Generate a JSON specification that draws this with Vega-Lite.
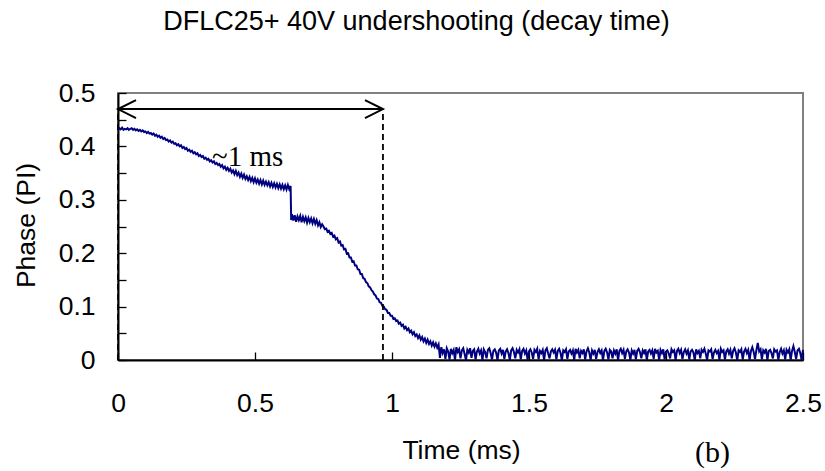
{
  "$schema": "https://vega.github.io/schema/vega-lite/v6.json",
  "width": 685,
  "height": 267,
  "autosize": {"type": "none"},
  "padding": {"left": 118, "top": 93, "right": 22, "bottom": 111},
  "background": "white",
  "config": {"view": {"stroke": "#808080", "strokeWidth": 2}, "font": "Liberation Sans"},
  "title": {"text": "DFLC25+ 40V undershooting (decay time)", "font": "Liberation Sans", "fontSize": 27, "fontWeight": "normal", "color": "black", "anchor": "middle", "dx": -44, "offset": 44},
  "datasets": {
    "trace": [
      {"t":0.000,"p":0.431},{"t":0.005,"p":0.434},{"t":0.010,"p":0.432},{"t":0.015,"p":0.435},{"t":0.020,"p":0.431},{"t":0.025,"p":0.433},{"t":0.030,"p":0.432},{"t":0.035,"p":0.434},{"t":0.040,"p":0.431},{"t":0.045,"p":0.433},
      {"t":0.050,"p":0.434},{"t":0.055,"p":0.431},{"t":0.060,"p":0.433},{"t":0.065,"p":0.430},{"t":0.070,"p":0.432},{"t":0.075,"p":0.429},{"t":0.080,"p":0.431},{"t":0.085,"p":0.428},{"t":0.090,"p":0.430},{"t":0.095,"p":0.427},
      {"t":0.100,"p":0.428},{"t":0.105,"p":0.425},{"t":0.110,"p":0.427},{"t":0.115,"p":0.424},{"t":0.120,"p":0.425},{"t":0.125,"p":0.422},{"t":0.130,"p":0.424},{"t":0.135,"p":0.420},{"t":0.140,"p":0.422},{"t":0.145,"p":0.418},
      {"t":0.150,"p":0.420},{"t":0.155,"p":0.416},{"t":0.160,"p":0.418},{"t":0.165,"p":0.414},{"t":0.170,"p":0.416},{"t":0.175,"p":0.412},{"t":0.180,"p":0.413},{"t":0.185,"p":0.409},{"t":0.190,"p":0.411},{"t":0.195,"p":0.407},
      {"t":0.200,"p":0.409},{"t":0.205,"p":0.405},{"t":0.210,"p":0.406},{"t":0.215,"p":0.402},{"t":0.220,"p":0.404},{"t":0.225,"p":0.400},{"t":0.230,"p":0.402},{"t":0.235,"p":0.397},{"t":0.240,"p":0.399},{"t":0.245,"p":0.395},
      {"t":0.250,"p":0.397},{"t":0.255,"p":0.392},{"t":0.260,"p":0.394},{"t":0.265,"p":0.390},{"t":0.270,"p":0.392},{"t":0.275,"p":0.387},{"t":0.280,"p":0.389},{"t":0.285,"p":0.385},{"t":0.290,"p":0.387},{"t":0.295,"p":0.382},
      {"t":0.300,"p":0.384},{"t":0.305,"p":0.380},{"t":0.310,"p":0.382},{"t":0.315,"p":0.377},{"t":0.320,"p":0.379},{"t":0.325,"p":0.375},{"t":0.330,"p":0.377},{"t":0.335,"p":0.372},{"t":0.340,"p":0.374},{"t":0.345,"p":0.370},
      {"t":0.350,"p":0.372},{"t":0.355,"p":0.367},{"t":0.360,"p":0.369},{"t":0.365,"p":0.365},{"t":0.370,"p":0.367},{"t":0.375,"p":0.362},{"t":0.380,"p":0.365},{"t":0.385,"p":0.359},{"t":0.390,"p":0.362},{"t":0.395,"p":0.356},
      {"t":0.400,"p":0.360},{"t":0.405,"p":0.354},{"t":0.410,"p":0.358},{"t":0.415,"p":0.351},{"t":0.420,"p":0.355},{"t":0.425,"p":0.348},{"t":0.430,"p":0.354},{"t":0.435,"p":0.346},{"t":0.440,"p":0.351},{"t":0.445,"p":0.343},
      {"t":0.450,"p":0.349},{"t":0.455,"p":0.341},{"t":0.460,"p":0.347},{"t":0.465,"p":0.339},{"t":0.470,"p":0.344},{"t":0.475,"p":0.337},{"t":0.480,"p":0.343},{"t":0.485,"p":0.335},{"t":0.490,"p":0.341},{"t":0.495,"p":0.333},
      {"t":0.500,"p":0.340},{"t":0.505,"p":0.332},{"t":0.510,"p":0.338},{"t":0.515,"p":0.330},{"t":0.520,"p":0.337},{"t":0.525,"p":0.329},{"t":0.530,"p":0.336},{"t":0.535,"p":0.328},{"t":0.540,"p":0.334},{"t":0.545,"p":0.327},
      {"t":0.550,"p":0.333},{"t":0.555,"p":0.325},{"t":0.560,"p":0.332},{"t":0.565,"p":0.324},{"t":0.570,"p":0.331},{"t":0.575,"p":0.323},{"t":0.580,"p":0.330},{"t":0.585,"p":0.322},{"t":0.590,"p":0.329},{"t":0.595,"p":0.321},
      {"t":0.600,"p":0.328},{"t":0.605,"p":0.320},{"t":0.610,"p":0.327},{"t":0.615,"p":0.319},{"t":0.620,"p":0.328},{"t":0.625,"p":0.320},{"t":0.630,"p":0.326},
      {"t":0.632,"p":0.262},{"t":0.635,"p":0.273},{"t":0.640,"p":0.261},{"t":0.645,"p":0.271},{"t":0.650,"p":0.259},{"t":0.655,"p":0.269},{"t":0.660,"p":0.262},{"t":0.665,"p":0.270},{"t":0.670,"p":0.258},{"t":0.675,"p":0.268},
      {"t":0.680,"p":0.260},{"t":0.685,"p":0.267},{"t":0.690,"p":0.257},{"t":0.695,"p":0.266},{"t":0.700,"p":0.258},{"t":0.705,"p":0.265},{"t":0.710,"p":0.256},{"t":0.715,"p":0.264},{"t":0.720,"p":0.255},{"t":0.725,"p":0.262},
      {"t":0.730,"p":0.252},{"t":0.735,"p":0.258},{"t":0.740,"p":0.249},{"t":0.745,"p":0.254},{"t":0.750,"p":0.250},{"t":0.755,"p":0.245},{"t":0.760,"p":0.246},{"t":0.765,"p":0.240},{"t":0.770,"p":0.242},{"t":0.775,"p":0.236},
      {"t":0.780,"p":0.238},{"t":0.785,"p":0.231},{"t":0.790,"p":0.233},{"t":0.795,"p":0.226},{"t":0.800,"p":0.228},{"t":0.805,"p":0.220},{"t":0.810,"p":0.222},{"t":0.815,"p":0.214},{"t":0.820,"p":0.215},{"t":0.825,"p":0.207},
      {"t":0.830,"p":0.208},{"t":0.835,"p":0.199},{"t":0.840,"p":0.200},{"t":0.845,"p":0.192},{"t":0.850,"p":0.192},{"t":0.855,"p":0.184},{"t":0.860,"p":0.185},{"t":0.865,"p":0.177},{"t":0.870,"p":0.177},{"t":0.875,"p":0.170},
      {"t":0.880,"p":0.169},{"t":0.885,"p":0.161},{"t":0.890,"p":0.161},{"t":0.895,"p":0.153},{"t":0.900,"p":0.152},{"t":0.905,"p":0.146},{"t":0.910,"p":0.144},{"t":0.915,"p":0.138},{"t":0.920,"p":0.136},{"t":0.925,"p":0.131},
      {"t":0.930,"p":0.128},{"t":0.935,"p":0.123},{"t":0.940,"p":0.121},{"t":0.945,"p":0.115},{"t":0.950,"p":0.114},{"t":0.955,"p":0.108},{"t":0.960,"p":0.107},{"t":0.965,"p":0.101},{"t":0.970,"p":0.100},{"t":0.975,"p":0.095},
      {"t":0.980,"p":0.094},{"t":0.985,"p":0.088},{"t":0.990,"p":0.088},{"t":0.995,"p":0.083},{"t":1.000,"p":0.083},{"t":1.005,"p":0.077},{"t":1.010,"p":0.078},{"t":1.015,"p":0.073},{"t":1.020,"p":0.074},{"t":1.025,"p":0.068},
      {"t":1.030,"p":0.070},{"t":1.035,"p":0.064},{"t":1.040,"p":0.066},{"t":1.045,"p":0.059},{"t":1.050,"p":0.062},{"t":1.055,"p":0.056},{"t":1.060,"p":0.059},{"t":1.065,"p":0.052},{"t":1.070,"p":0.055},{"t":1.075,"p":0.048},
      {"t":1.080,"p":0.052},{"t":1.085,"p":0.045},{"t":1.090,"p":0.048},{"t":1.095,"p":0.041},{"t":1.100,"p":0.046},{"t":1.105,"p":0.038},{"t":1.110,"p":0.043},{"t":1.115,"p":0.035},{"t":1.120,"p":0.040},{"t":1.125,"p":0.032},
      {"t":1.130,"p":0.038},{"t":1.135,"p":0.030},{"t":1.140,"p":0.035},{"t":1.145,"p":0.027},{"t":1.150,"p":0.033},{"t":1.155,"p":0.025},{"t":1.160,"p":0.031},{"t":1.165,"p":0.023},{"t":1.170,"p":0.029},{"t":1.175,"p":0.004},
      {"t":1.180,"p":0.024},{"t":1.185,"p":0.013},{"t":1.190,"p":0.020},{"t":1.195,"p":0.002},{"t":1.200,"p":0.022},{"t":1.205,"p":0.016},{"t":1.210,"p":0.001},{"t":1.215,"p":0.021},{"t":1.220,"p":0.013},{"t":1.225,"p":0.019},
      {"t":1.230,"p":0.000},{"t":1.235,"p":0.024},{"t":1.240,"p":0.015},{"t":1.245,"p":0.020},{"t":1.250,"p":0.003},{"t":1.255,"p":0.018},{"t":1.260,"p":0.022},{"t":1.265,"p":0.011},{"t":1.270,"p":0.000},{"t":1.275,"p":0.019},
      {"t":1.280,"p":0.014},{"t":1.285,"p":0.022},{"t":1.290,"p":0.004},{"t":1.295,"p":0.017},{"t":1.300,"p":0.020},{"t":1.305,"p":0.001},{"t":1.310,"p":0.016},{"t":1.315,"p":0.021},{"t":1.320,"p":0.012},{"t":1.325,"p":0.018},
      {"t":1.330,"p":0.000},{"t":1.335,"p":0.020},{"t":1.340,"p":0.015},{"t":1.345,"p":0.003},{"t":1.350,"p":0.019},{"t":1.355,"p":0.022},{"t":1.360,"p":0.013},{"t":1.365,"p":0.001},{"t":1.370,"p":0.017},{"t":1.375,"p":0.020},
      {"t":1.380,"p":0.014},{"t":1.385,"p":0.000},{"t":1.390,"p":0.018},{"t":1.395,"p":0.021},{"t":1.400,"p":0.012},{"t":1.405,"p":0.019},{"t":1.410,"p":0.002},{"t":1.415,"p":0.016},{"t":1.420,"p":0.020},{"t":1.425,"p":0.013},
      {"t":1.430,"p":0.000},{"t":1.435,"p":0.018},{"t":1.440,"p":0.022},{"t":1.445,"p":0.015},{"t":1.450,"p":0.003},{"t":1.455,"p":0.019},{"t":1.460,"p":0.014},{"t":1.465,"p":0.020},{"t":1.470,"p":0.001},{"t":1.475,"p":0.017},
      {"t":1.480,"p":0.021},{"t":1.485,"p":0.012},{"t":1.490,"p":0.018},{"t":1.495,"p":0.000},{"t":1.500,"p":0.016},{"t":1.505,"p":0.020},{"t":1.510,"p":0.014},{"t":1.515,"p":0.002},{"t":1.520,"p":0.019},{"t":1.525,"p":0.015},
      {"t":1.530,"p":0.021},{"t":1.535,"p":0.001},{"t":1.540,"p":0.017},{"t":1.545,"p":0.013},{"t":1.550,"p":0.019},{"t":1.555,"p":0.000},{"t":1.560,"p":0.018},{"t":1.565,"p":0.022},{"t":1.570,"p":0.012},{"t":1.575,"p":0.003},
      {"t":1.580,"p":0.016},{"t":1.585,"p":0.020},{"t":1.590,"p":0.014},{"t":1.595,"p":0.019},{"t":1.600,"p":0.001},{"t":1.605,"p":0.017},{"t":1.610,"p":0.021},{"t":1.615,"p":0.013},{"t":1.620,"p":0.000},{"t":1.625,"p":0.018},
      {"t":1.630,"p":0.015},{"t":1.635,"p":0.020},{"t":1.640,"p":0.002},{"t":1.645,"p":0.016},{"t":1.650,"p":0.019},{"t":1.655,"p":0.012},{"t":1.660,"p":0.018},{"t":1.665,"p":0.000},{"t":1.670,"p":0.021},{"t":1.675,"p":0.014},
      {"t":1.680,"p":0.019},{"t":1.685,"p":0.003},{"t":1.690,"p":0.017},{"t":1.695,"p":0.013},{"t":1.700,"p":0.020},{"t":1.705,"p":0.001},{"t":1.710,"p":0.016},{"t":1.715,"p":0.022},{"t":1.720,"p":0.014},{"t":1.725,"p":0.000},
      {"t":1.730,"p":0.018},{"t":1.735,"p":0.012},{"t":1.740,"p":0.019},{"t":1.745,"p":0.002},{"t":1.750,"p":0.015},{"t":1.755,"p":0.020},{"t":1.760,"p":0.013},{"t":1.765,"p":0.018},{"t":1.770,"p":0.000},{"t":1.775,"p":0.017},
      {"t":1.780,"p":0.021},{"t":1.785,"p":0.014},{"t":1.790,"p":0.001},{"t":1.795,"p":0.019},{"t":1.800,"p":0.016},{"t":1.805,"p":0.003},{"t":1.810,"p":0.018},{"t":1.815,"p":0.012},{"t":1.820,"p":0.020},{"t":1.825,"p":0.000},
      {"t":1.830,"p":0.017},{"t":1.835,"p":0.021},{"t":1.840,"p":0.013},{"t":1.845,"p":0.019},{"t":1.850,"p":0.002},{"t":1.855,"p":0.016},{"t":1.860,"p":0.020},{"t":1.865,"p":0.014},{"t":1.870,"p":0.000},{"t":1.875,"p":0.018},
      {"t":1.880,"p":0.012},{"t":1.885,"p":0.019},{"t":1.890,"p":0.001},{"t":1.895,"p":0.017},{"t":1.900,"p":0.021},{"t":1.905,"p":0.015},{"t":1.910,"p":0.003},{"t":1.915,"p":0.018},{"t":1.920,"p":0.013},{"t":1.925,"p":0.020},
      {"t":1.930,"p":0.000},{"t":1.935,"p":0.016},{"t":1.940,"p":0.019},{"t":1.945,"p":0.012},{"t":1.950,"p":0.018},{"t":1.955,"p":0.002},{"t":1.960,"p":0.021},{"t":1.965,"p":0.014},{"t":1.970,"p":0.017},{"t":1.975,"p":0.000},
      {"t":1.980,"p":0.019},{"t":1.985,"p":0.013},{"t":1.990,"p":0.020},{"t":1.995,"p":0.001},{"t":2.000,"p":0.016},{"t":2.005,"p":0.018},{"t":2.010,"p":0.012},{"t":2.015,"p":0.003},{"t":2.020,"p":0.020},{"t":2.025,"p":0.015},
      {"t":2.030,"p":0.018},{"t":2.035,"p":0.000},{"t":2.040,"p":0.017},{"t":2.045,"p":0.021},{"t":2.050,"p":0.013},{"t":2.055,"p":0.019},{"t":2.060,"p":0.002},{"t":2.065,"p":0.015},{"t":2.070,"p":0.020},{"t":2.075,"p":0.012},
      {"t":2.080,"p":0.018},{"t":2.085,"p":0.001},{"t":2.090,"p":0.016},{"t":2.095,"p":0.019},{"t":2.100,"p":0.014},{"t":2.105,"p":0.000},{"t":2.110,"p":0.020},{"t":2.115,"p":0.013},{"t":2.120,"p":0.017},{"t":2.125,"p":0.003},
      {"t":2.130,"p":0.019},{"t":2.135,"p":0.015},{"t":2.140,"p":0.021},{"t":2.145,"p":0.012},{"t":2.150,"p":0.000},{"t":2.155,"p":0.018},{"t":2.160,"p":0.016},{"t":2.165,"p":0.020},{"t":2.170,"p":0.002},{"t":2.175,"p":0.014},
      {"t":2.180,"p":0.019},{"t":2.185,"p":0.013},{"t":2.190,"p":0.017},{"t":2.195,"p":0.000},{"t":2.200,"p":0.021},{"t":2.205,"p":0.015},{"t":2.210,"p":0.018},{"t":2.215,"p":0.001},{"t":2.220,"p":0.016},{"t":2.225,"p":0.020},
      {"t":2.230,"p":0.012},{"t":2.235,"p":0.019},{"t":2.240,"p":0.003},{"t":2.245,"p":0.017},{"t":2.250,"p":0.022},{"t":2.255,"p":0.014},{"t":2.260,"p":0.000},{"t":2.265,"p":0.018},{"t":2.270,"p":0.015},{"t":2.275,"p":0.020},
      {"t":2.280,"p":0.001},{"t":2.285,"p":0.016},{"t":2.290,"p":0.021},{"t":2.295,"p":0.013},{"t":2.300,"p":0.019},{"t":2.305,"p":0.000},{"t":2.310,"p":0.017},{"t":2.315,"p":0.024},{"t":2.320,"p":0.015},{"t":2.325,"p":0.002},
      {"t":2.330,"p":0.019},{"t":2.335,"p":0.032},{"t":2.340,"p":0.016},{"t":2.345,"p":0.020},{"t":2.350,"p":0.001},{"t":2.355,"p":0.018},{"t":2.360,"p":0.014},{"t":2.365,"p":0.021},{"t":2.370,"p":0.000},{"t":2.375,"p":0.017},
      {"t":2.380,"p":0.019},{"t":2.385,"p":0.013},{"t":2.390,"p":0.003},{"t":2.395,"p":0.020},{"t":2.400,"p":0.016},{"t":2.405,"p":0.018},{"t":2.410,"p":0.000},{"t":2.415,"p":0.015},{"t":2.420,"p":0.021},{"t":2.425,"p":0.012},
      {"t":2.430,"p":0.018},{"t":2.435,"p":0.001},{"t":2.440,"p":0.019},{"t":2.445,"p":0.014},{"t":2.450,"p":0.020},{"t":2.455,"p":0.000},{"t":2.460,"p":0.017},{"t":2.465,"p":0.026},{"t":2.470,"p":0.015},{"t":2.475,"p":0.002},
      {"t":2.480,"p":0.018},{"t":2.485,"p":0.021},{"t":2.490,"p":0.013},{"t":2.495,"p":0.000},{"t":2.500,"p":0.019}
    ]
  },
  "encoding": {
    "x": {
      "field": "t", "type": "quantitative",
      "scale": {"domain": [0, 2.5], "nice": false, "zero": false},
      "axis": {
        "title": "Time (ms)", "values": [0, 0.5, 1, 1.5, 2, 2.5], "format": "~g",
        "grid": false, "domainColor": "black", "domainWidth": 2,
        "tickColor": "black", "tickWidth": 1.3, "tickSize": -8,
        "labelFont": "Liberation Sans", "labelFontSize": 26.5, "labelColor": "black", "labelPadding": 38.6,
        "labelFlush": false, "labelOverlap": false,
        "titleFont": "Liberation Sans", "titleFontSize": 26.5, "titleFontWeight": "normal", "titleColor": "black",
        "titleX": 343, "titleY": 98, "titleBaseline": "alphabetic", "titleAlign": "center"
      }
    },
    "y": {
      "field": "p", "type": "quantitative",
      "scale": {"domain": [0, 0.5], "nice": false},
      "axis": {
        "title": "Phase (PI)", "values": [0, 0.05, 0.1, 0.15, 0.2, 0.25, 0.3, 0.35, 0.4, 0.45, 0.5], "format": "~g",
        "labelExpr": "round(datum.value*100) % 10 == 0 ? datum.label : ''",
        "grid": false, "domainColor": "black", "domainWidth": 2,
        "tickColor": "black", "tickWidth": 1.3, "tickSize": -8,
        "labelFont": "Liberation Sans", "labelFontSize": 26.5, "labelColor": "black", "labelPadding": 31,
        "labelFlush": false, "labelOverlap": false,
        "titleFont": "Liberation Sans", "titleFontSize": 26.5, "titleFontWeight": "normal", "titleColor": "black",
        "titleX": -92, "titleY": 132, "titleAngle": -90, "titleBaseline": "middle", "titleAlign": "center"
      }
    }
  },
  "layer": [
    {
      "data": {"name": "trace"},
      "mark": {"type": "line", "color": "#000080", "strokeWidth": 2}
    },
    {
      "data": {"values": [{"t": 0, "p": 0, "p2": 0.47}, {"t": 0.967, "p": 0, "p2": 0.47}]},
      "mark": {"type": "rule", "color": "black", "strokeWidth": 1.8, "strokeDash": [6, 4]},
      "encoding": {"y2": {"field": "p2"}}
    },
    {
      "data": {"values": [{"t": 0, "t2": 0.967, "p": 0.47}]},
      "mark": {"type": "rule", "color": "black", "strokeWidth": 2},
      "encoding": {"x2": {"field": "t2"}}
    },
    {
      "data": {"values": [{"t": 0, "p": 0.47, "side": "L"}, {"t": 0.967, "p": 0.47, "side": "R"}]},
      "mark": {"type": "point", "filled": false, "stroke": "black", "strokeWidth": 2, "size": 324, "opacity": 1},
      "encoding": {
        "shape": {"field": "side", "type": "nominal", "scale": {"domain": ["L", "R"], "range": ["M2,-1L0,0L2,1", "M-2,-1L0,0L-2,1"]}, "legend": null}
      }
    },
    {
      "data": {"values": [{"t": 0.343, "p": 0.363, "label": "~1 ms"}]},
      "mark": {"type": "text", "font": "Liberation Serif", "fontSize": 29, "align": "left", "baseline": "alphabetic", "color": "black"},
      "encoding": {"text": {"field": "label"}}
    },
    {
      "data": {"values": [{"t": 2.17, "p": -0.174, "label": "(b)"}]},
      "mark": {"type": "text", "font": "Liberation Serif", "fontSize": 30, "align": "center", "baseline": "middle", "color": "black"},
      "encoding": {"text": {"field": "label"}}
    }
  ]
}
